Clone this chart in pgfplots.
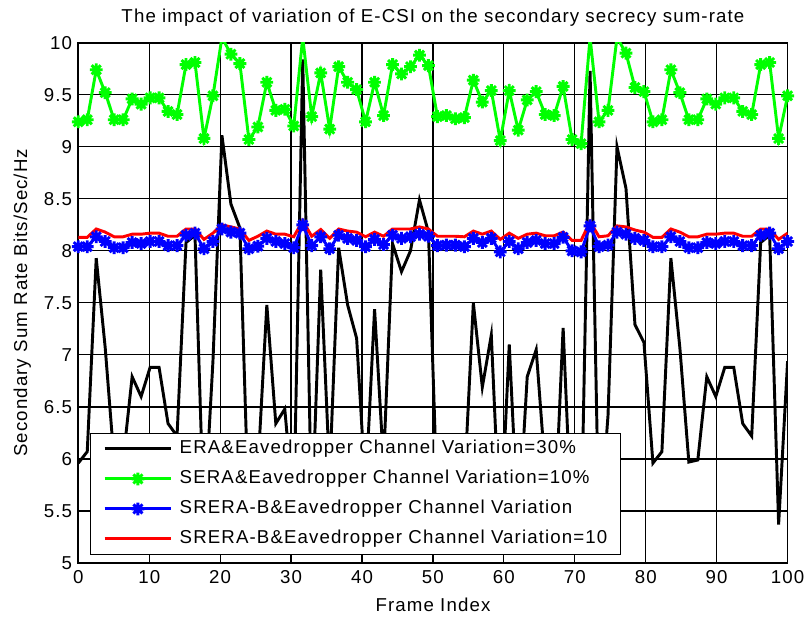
\documentclass[border=0pt]{standalone}
\usepackage{fontspec}
\setmainfont{Liberation Sans}[LetterSpace=6]
\usepackage{pgfplots}
\usepackage{pgfplotstable}
\pgfplotsset{compat=1.18}

\definecolor{mgreen}{rgb}{0,1,0}
\definecolor{mblue}{rgb}{0,0,1}
\definecolor{mred}{rgb}{1,0,0}

% eight-armed asterisk marker
\pgfdeclareplotmark{mstar}{%
  \pgfpathmoveto{\pgfqpoint{-\pgfplotmarksize}{0pt}}%
  \pgfpathlineto{\pgfqpoint{\pgfplotmarksize}{0pt}}%
  \pgfpathmoveto{\pgfqpoint{0pt}{-\pgfplotmarksize}}%
  \pgfpathlineto{\pgfqpoint{0pt}{\pgfplotmarksize}}%
  \pgfpathmoveto{\pgfqpoint{-0.7071\pgfplotmarksize}{-0.7071\pgfplotmarksize}}%
  \pgfpathlineto{\pgfqpoint{0.7071\pgfplotmarksize}{0.7071\pgfplotmarksize}}%
  \pgfpathmoveto{\pgfqpoint{-0.7071\pgfplotmarksize}{0.7071\pgfplotmarksize}}%
  \pgfpathlineto{\pgfqpoint{0.7071\pgfplotmarksize}{-0.7071\pgfplotmarksize}}%
  \pgfusepathqstroke}

% frame index, ERA, SERA, SRERA-B, SRERA-B (variation 10)
\pgfplotstableread{
x       era   sera   srerab  srerabten
0.000   5.96  9.24   8.04    8.13
1.266   6.07  9.26   8.04    8.13
2.532   7.93  9.74   8.135   8.21
3.797   7.07  9.52   8.09    8.18
5.063   5.97  9.26   8.03    8.135
6.329   5.99  9.26   8.03    8.135
7.595   6.79  9.46   8.08    8.16
8.861   6.60  9.41   8.07    8.16
10.127  6.88  9.47   8.09    8.17
11.392  6.88  9.47   8.09    8.17
12.658  6.34  9.34   8.05    8.14
13.924  6.22  9.31   8.05    8.14
15.190  8.08  9.79   8.15    8.21
16.456  8.15  9.81   8.17    8.21
17.722  5.37  9.08   8.02    8.11
18.987  6.94  9.49   8.09    8.17
20.253  9.11  10.05  8.21    8.25
21.519  8.45  9.89   8.18    8.23
22.785  8.22  9.80   8.17    8.21
24.051  5.40  9.07   8.02    8.10
25.316  5.90  9.19   8.045   8.14
26.582  7.48  9.62   8.12    8.19
27.848  6.34  9.35   8.09    8.16
29.114  6.48  9.36   8.07    8.16
30.380  5.50  9.20   8.03    8.135
31.646  9.84  10.05  8.25    8.29
32.911  5.40  9.29   8.05    8.14
34.177  7.82  9.71   8.135   8.205
35.443  5.85  9.17   8.02    8.12
36.709  8.03  9.77   8.15    8.21
37.975  7.48  9.62   8.12    8.19
39.241  7.16  9.55   8.10    8.18
40.506  5.70  9.24   8.04    8.135
41.772  7.44  9.62   8.11    8.18
43.038  5.95  9.30   8.06    8.14
44.304  8.07  9.79   8.15    8.21
45.570  7.80  9.70   8.12    8.21
46.835  8.00  9.77   8.135   8.21
48.101  8.49  9.88   8.16    8.23
49.367  8.18  9.78   8.14    8.21
50.633  5.55  9.29   8.05    8.14
51.899  5.80  9.30   8.055   8.14
53.165  5.60  9.27   8.055   8.14
54.430  5.75  9.28   8.04    8.135
55.696  7.50  9.64   8.12    8.19
56.962  6.69  9.43   8.08    8.16
58.228  7.19  9.54   8.12    8.19
59.494  5.25  9.06   7.99    8.11
60.759  7.10  9.54   8.09    8.17
62.025  5.30  9.16   8.02    8.12
63.291  6.79  9.45   8.08    8.16
64.557  7.05  9.53   8.10    8.17
65.823  5.90  9.31   8.07    8.145
67.089  5.30  9.30   8.07    8.145
68.354  7.26  9.58   8.13    8.18
69.620  5.25  9.07   8.00    8.10
70.886  5.25  9.03   7.99    8.10
72.152  9.73  10.05  8.24    8.28
73.418  5.25  9.24   8.04    8.135
74.684  6.42  9.35   8.055   8.145
75.949  9.00  10.05  8.18    8.24
77.215  8.60  9.90   8.16    8.23
78.481  7.29  9.57   8.12    8.20
79.747  7.12  9.53   8.10    8.18
81.013  5.96  9.24   8.04    8.13
82.278  6.07  9.26   8.04    8.13
83.544  7.93  9.74   8.135   8.21
84.810  7.07  9.52   8.09    8.18
86.076  5.97  9.26   8.03    8.135
87.342  5.99  9.26   8.03    8.135
88.608  6.79  9.46   8.08    8.16
89.873  6.60  9.41   8.07    8.16
91.139  6.88  9.47   8.09    8.17
92.405  6.88  9.47   8.09    8.17
93.671  6.34  9.34   8.05    8.14
94.937  6.22  9.31   8.05    8.14
96.203  8.08  9.79   8.15    8.21
97.468  8.15  9.81   8.17    8.21
98.734  5.37  9.08   8.02    8.11
100.000 6.94  9.49   8.09    8.17
}\ratedata

\begin{document}
\begin{tikzpicture}[font=\fontsize{14}{17}\selectfont]
\useasboundingbox (-58.7pt,-40.5pt) rectangle (545.8pt,422.25pt);
\begin{axis}[
  at={(0,0)}, anchor=south west,
  width=532pt, height=390.2pt, scale only axis,
  xmin=0, xmax=100, ymin=5, ymax=10,
  xtick={0,10,...,100},
  ytick={5,5.5,6,6.5,7,7.5,8,8.5,9,9.5,10},
  yticklabels={5,5.5,6,6.5,7,7.5,8,8.5,9,9.5,10},
  grid=major,
  major grid style={black, line width=0.9pt},
  axis line style={black, line width=1.2pt},
  tick style={black, line width=0.9pt},
  tick align=inside, major tick length=5pt,
  /pgf/number format/assume math mode=true,
  xticklabel style={anchor=base, yshift=-15.5pt, inner sep=0pt},
  yticklabel style={anchor=east, inner sep=0pt, xshift=-4.5pt},
  title={The impact of variation of E-CSI on the secondary secrecy sum-rate},
  title style={at={(0.5,1)}, anchor=base, yshift=9.25pt, inner sep=0pt},
  xlabel={Frame Index},
  xlabel style={at={(0.5,0)}, anchor=base, yshift=-36pt, inner sep=0pt},
  ylabel={Secondary Sum Rate Bits/Sec/Hz},
  ylabel style={at={(axis description cs:-0.079,0.5)}, anchor=center, inner sep=0pt},
  legend cell align=left,
  legend style={at={(axis description cs:0.0165,0.0154)}, anchor=south west,
    draw=black, line width=0.75pt, fill=white,
    inner xsep=9.5pt, inner ysep=4.9pt, row sep=9pt,
    nodes={inner sep=0pt, text height=10.5pt, text depth=3pt},
    /tikz/every odd column/.append style={column sep=5.25pt}},
  legend image code/.code={%
    \draw[mark repeat=2, mark phase=2] plot coordinates {(0pt,0pt) (25pt,0pt) (50pt,0pt)};},
]
\addplot[black, line width=2.2pt] table[x=x, y=era] {\ratedata};
\addlegendentry{ERA\&Eavedropper Channel Variation=30\%}
\addplot[mgreen, line width=2.2pt, mark=mstar, mark size=4.8pt] table[x=x, y=sera] {\ratedata};
\addlegendentry{SERA\&Eavedropper Channel Variation=10\%}
\addplot[mblue, line width=2.2pt, mark=mstar, mark size=4.8pt] table[x=x, y=srerab] {\ratedata};
\addlegendentry{SRERA-B\&Eavedropper Channel Variation}
\addplot[mred, line width=2.2pt] table[x=x, y=srerabten] {\ratedata};
\addlegendentry{SRERA-B\&Eavedropper Channel Variation=10}
\end{axis}
\end{tikzpicture}
\end{document}
